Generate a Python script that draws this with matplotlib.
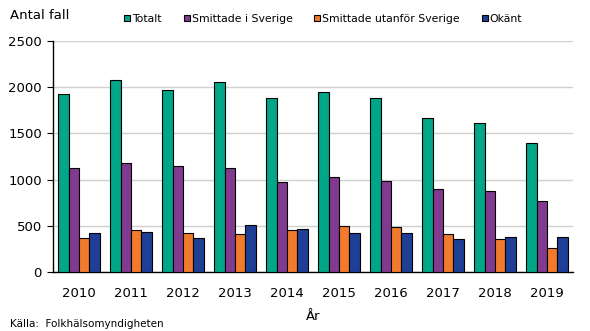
import matplotlib.pyplot as plt
import numpy as np

plt.rcParams['font.family'] = ['DejaVu Sans']

years = ['2010', '2011', '2012', '2013', '2014', '2015', '2016', '2017', '2018', '2019']
totalt = [1926, 2074, 1973, 2053, 1883, 1945, 1883, 1663, 1613, 1400]
sverige = [1122, 1183, 1147, 1125, 971, 1025, 981, 902, 880, 768]
utanfor = [371, 451, 425, 414, 451, 494, 484, 408, 354, 260]
okant = [419, 429, 371, 505, 462, 419, 419, 354, 375, 375]

series = [
    ('Totalt', totalt, '#00a688'),
    ('Smittade i Sverige', sverige, '#813a8e'),
    ('Smittade utanför Sverige', utanfor, '#f27a2c'),
    ('Okänt', okant, '#1f3f96'),
]

fig = plt.figure(figsize=(5.9, 3.31), dpi=100)
ax = fig.add_axes([0.09, 0.178, 0.881, 0.698])

x = np.arange(len(years))
w = 0.2
for i, (name, vals, col) in enumerate(series):
    ax.bar(x + (i - 1.5) * w, vals, w, color=col, edgecolor='black',
           linewidth=0.8, label=name, zorder=3)

ax.set_xlim(-0.5, len(years) - 0.5)
ax.set_ylim(0, 2500)
ax.set_yticks(range(0, 2501, 500))
ax.set_xticks(x)
ax.set_xticklabels(years)
ax.grid(axis='y', color='#d0d0d0', linewidth=1, zorder=0)
for s in ['top', 'right']:
    ax.spines[s].set_visible(False)
ax.spines['left'].set_linewidth(1)
ax.spines['bottom'].set_linewidth(1)
ax.tick_params(axis='x', length=0, pad=11, labelsize=9.5)
ax.tick_params(axis='y', length=4, direction='out', pad=4, labelsize=9.5)
ax.set_xlabel('År', fontsize=9.5, labelpad=7)

fig.text(0.017, 0.953, 'Antal fall', fontsize=9.5, va='center')
fig.text(0.017, 0.022, 'Källa:  Folkhälsomyndigheten', fontsize=7.5, va='center')
fig.legend(loc='center', bbox_to_anchor=(0.548, 0.943), ncol=4, frameon=False,
           fontsize=7.8, handlelength=0.55, handleheight=0.55, handletextpad=0.2,
           columnspacing=2.0)

fig.savefig('out.png', dpi=100)
